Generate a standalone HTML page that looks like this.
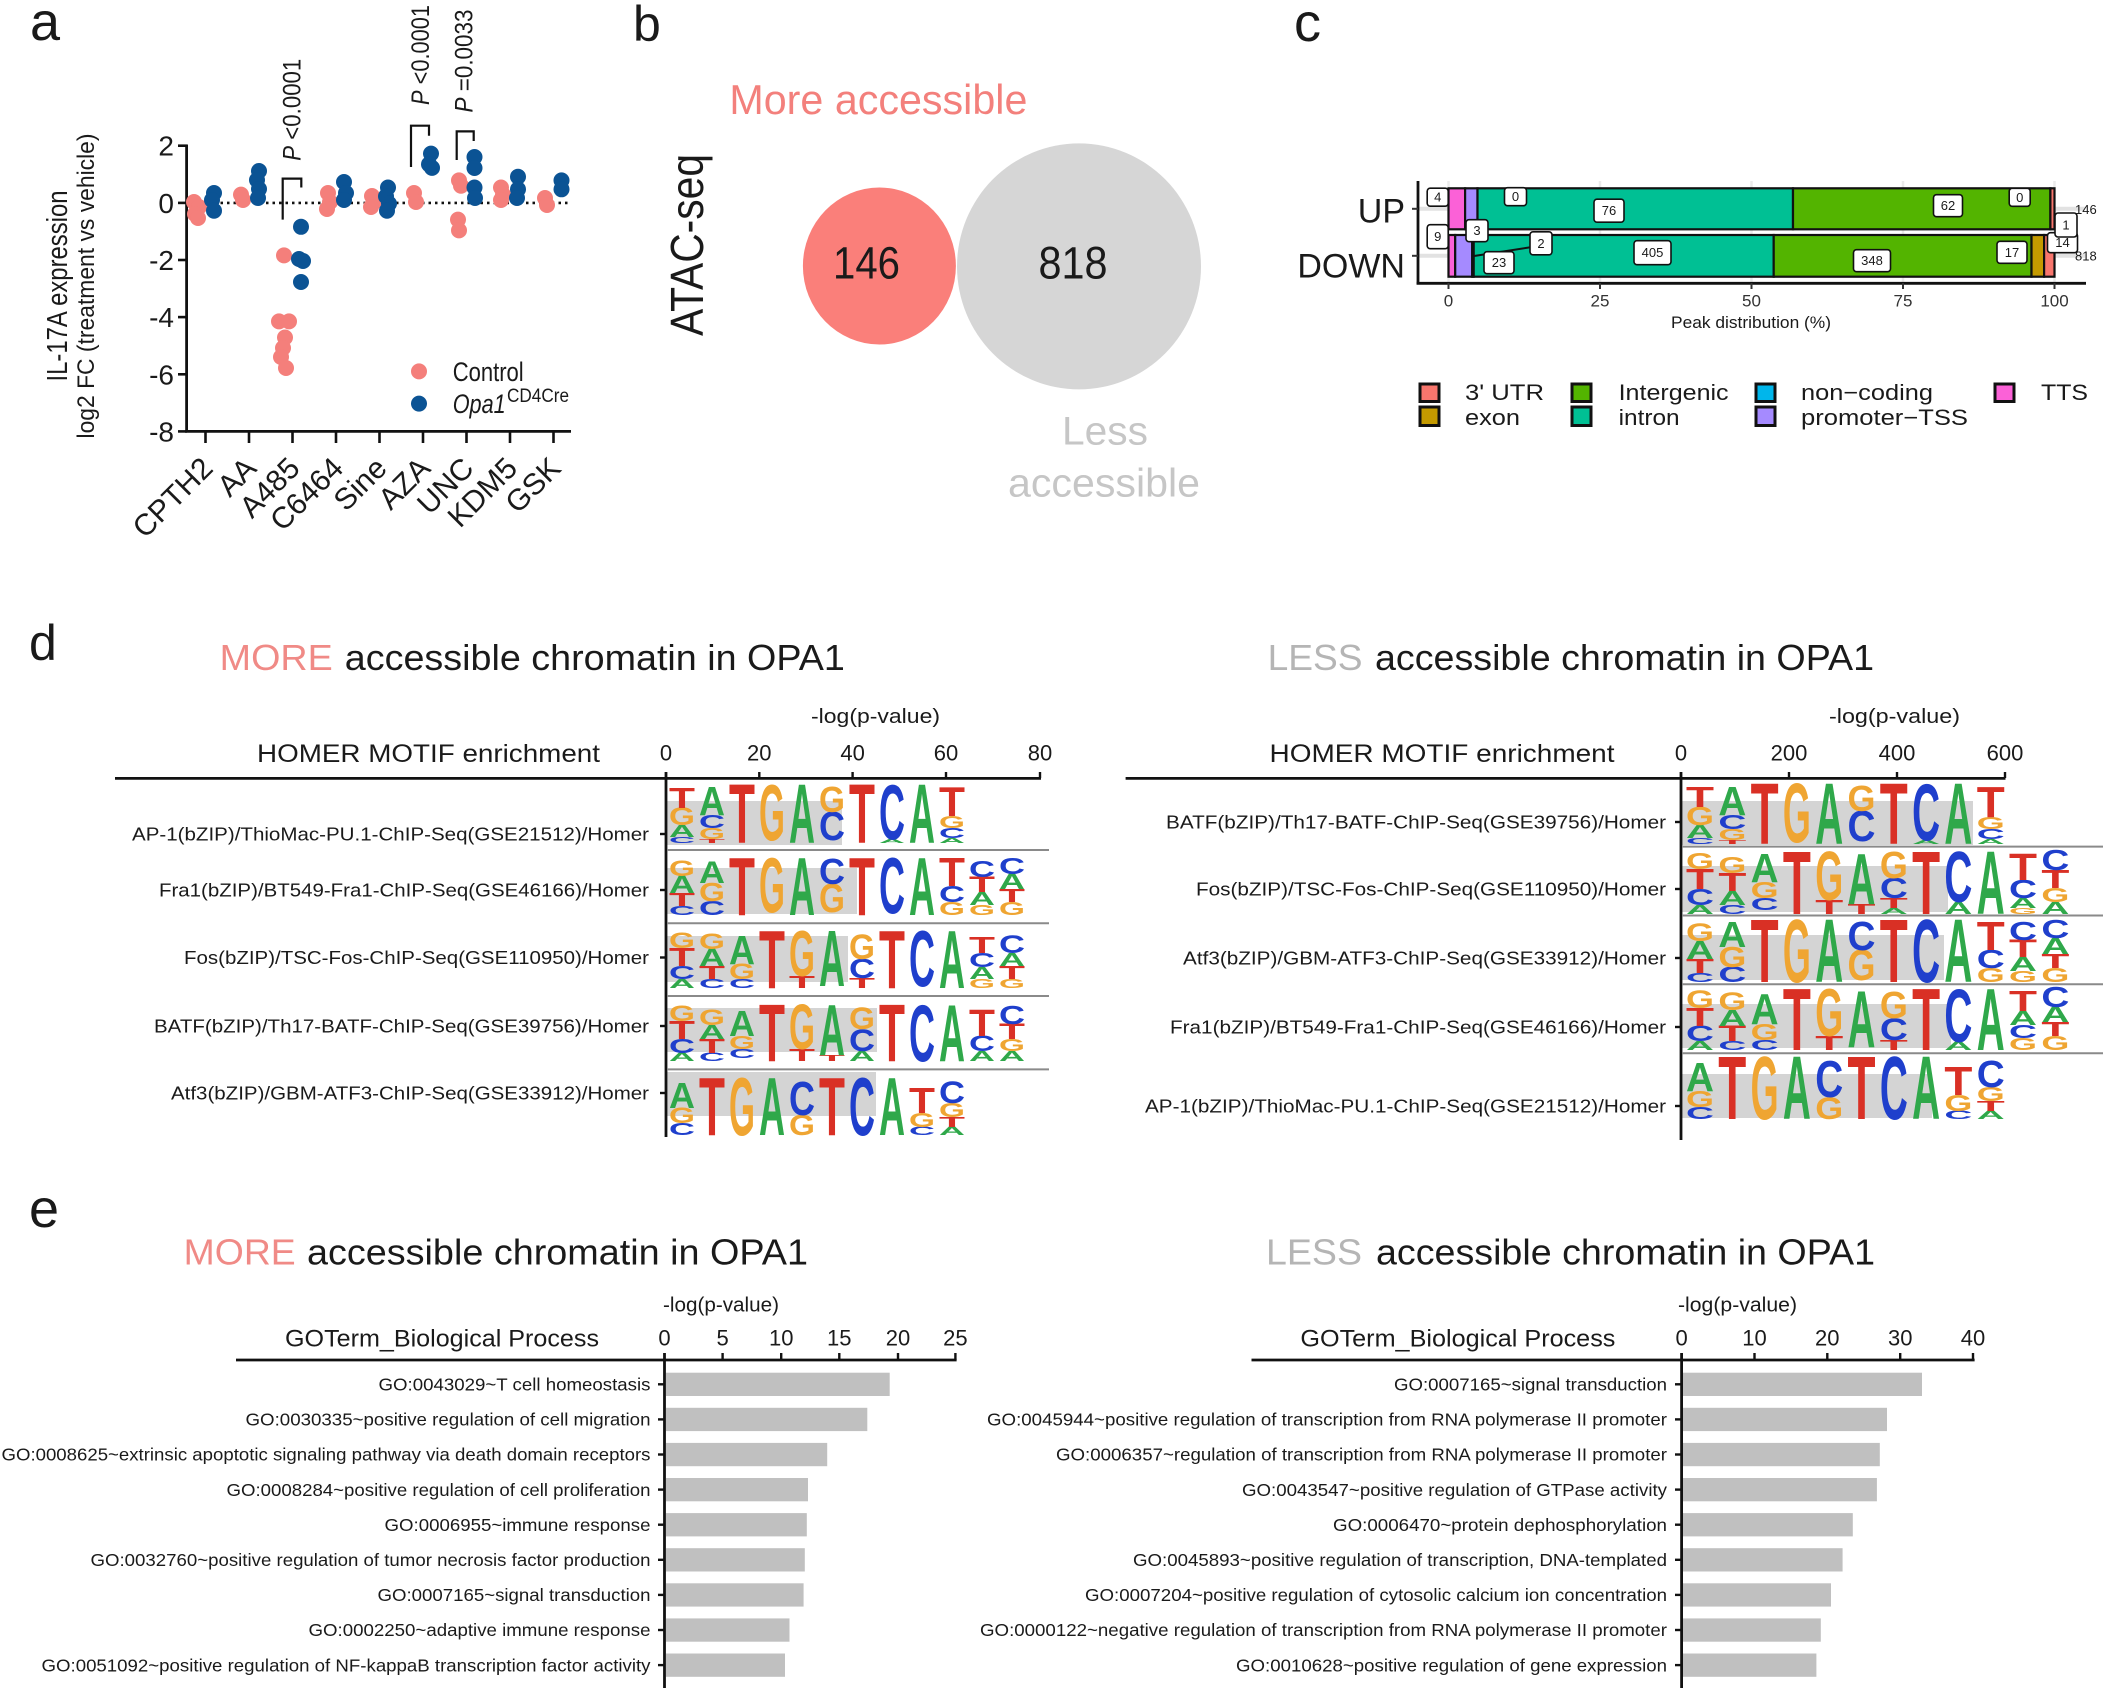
<!DOCTYPE html>
<html><head><meta charset="utf-8">
<style>
body{margin:0;background:#fff}
svg{display:block}
text{font-family:"Liberation Sans",Arial,sans-serif;fill:#1a1a1a}
.lg text{font-weight:bold;font-size:14.5px;text-anchor:middle}
.lg .A{fill:#2FA84A}.lg .C{fill:#1F3FCC}.lg .G{fill:#EFA532}.lg .T{fill:#D93025}
.ax{stroke:#111;stroke-width:2.8;fill:none}
.sep{stroke:#8a8a8a;stroke-width:2}
.lab{font-size:18px;text-anchor:end}
.go{font-size:17.5px;text-anchor:end}
.tk{font-size:22px;text-anchor:middle}
.bx rect{fill:#fff;stroke:#111;stroke-width:1.6}
.bx text{font-size:13px;text-anchor:middle}
</style></head><body>
<svg width="2103" height="1690" viewBox="0 0 2103 1690" xmlns="http://www.w3.org/2000/svg">
<rect width="2103" height="1690" fill="#fff"/>

<!-- ============ PANEL LETTERS ============ -->
<text x="30" y="40" font-size="54">a</text>
<text x="633" y="41" font-size="50">b</text>
<text x="1294" y="41" font-size="54">c</text>
<text x="29" y="660" font-size="50">d</text>
<text x="29" y="1227" font-size="54">e</text>

<!-- ============ PANEL A ============ -->
<g>
<line x1="186.6" y1="144.5" x2="186.6" y2="432.5" class="ax" stroke-width="3"/>
<line x1="185" y1="431.4" x2="571" y2="431.4" class="ax" stroke-width="3"/>
<g stroke="#111" stroke-width="2.6">
<line x1="178" y1="145.7" x2="187" y2="145.7"/><line x1="178" y1="202.9" x2="187" y2="202.9"/>
<line x1="178" y1="260" x2="187" y2="260"/><line x1="178" y1="317.1" x2="187" y2="317.1"/>
<line x1="178" y1="374.3" x2="187" y2="374.3"/><line x1="178" y1="431.4" x2="187" y2="431.4"/>
<line x1="205.5" y1="431" x2="205.5" y2="443"/><line x1="249" y1="431" x2="249" y2="443"/>
<line x1="292.5" y1="431" x2="292.5" y2="443"/><line x1="336" y1="431" x2="336" y2="443"/>
<line x1="379.5" y1="431" x2="379.5" y2="443"/><line x1="423" y1="431" x2="423" y2="443"/>
<line x1="466.5" y1="431" x2="466.5" y2="443"/><line x1="510" y1="431" x2="510" y2="443"/>
<line x1="553.5" y1="431" x2="553.5" y2="443"/>
</g>
<g font-size="28" text-anchor="end">
<text x="174" y="155.7">2</text><text x="174" y="212.9">0</text><text x="174" y="270">-2</text>
<text x="174" y="327.1">-4</text><text x="174" y="384.3">-6</text><text x="174" y="441.4">-8</text>
</g>
<line x1="188" y1="202.9" x2="571" y2="202.9" stroke="#111" stroke-width="2.6" stroke-dasharray="2.5 4"/>
<text transform="translate(67 286) rotate(-90)" font-size="29" text-anchor="middle" textLength="191" lengthAdjust="spacingAndGlyphs">IL-17A expression</text>
<text transform="translate(94 286) rotate(-90)" font-size="24" text-anchor="middle" textLength="305" lengthAdjust="spacingAndGlyphs">log2 FC (treatment vs vehicle)</text>
<g font-size="30" text-anchor="end">
<text transform="translate(214.5 470) rotate(-45)">CPTH2</text>
<text transform="translate(258 470) rotate(-45)">AA</text>
<text transform="translate(301.5 470) rotate(-45)">A485</text>
<text transform="translate(345 470) rotate(-45)">C6464</text>
<text transform="translate(388.5 470) rotate(-45)">Sine</text>
<text transform="translate(432 470) rotate(-45)">AZA</text>
<text transform="translate(475.5 470) rotate(-45)">UNC</text>
<text transform="translate(519 470) rotate(-45)">KDM5</text>
<text transform="translate(562.5 470) rotate(-45)">GSK</text>
</g>
<!-- brackets -->
<g stroke="#111" stroke-width="2.2" fill="none">
<path d="M282.7 219.6V178.6H301.3V187.5"/>
<path d="M411 167V125.7H429V135.7"/>
<path d="M456.7 160V131.4H473.7V141"/>
</g>
<g font-size="25">
<text transform="translate(300.5 160.7) rotate(-90)" textLength="102" lengthAdjust="spacingAndGlyphs"><tspan font-style="italic">P</tspan> &lt;0.0001</text>
<text transform="translate(429 105) rotate(-90)" textLength="100" lengthAdjust="spacingAndGlyphs"><tspan font-style="italic">P</tspan> &lt;0.0001</text>
<text transform="translate(472.5 112.5) rotate(-90)" textLength="103" lengthAdjust="spacingAndGlyphs"><tspan font-style="italic">P</tspan> =0.0033</text>
</g>
<!-- dots -->
<g fill="#F47F7B">
<circle cx="194" cy="202" r="8"/><circle cx="199" cy="207" r="8"/><circle cx="195" cy="214" r="8"/><circle cx="198" cy="218" r="8"/>
<circle cx="241" cy="194.6" r="8"/><circle cx="243" cy="200" r="8"/>
<circle cx="284" cy="255.4" r="8"/><circle cx="279" cy="321.4" r="8"/><circle cx="289" cy="321.4" r="8"/><circle cx="285" cy="337.5" r="8"/><circle cx="283" cy="348" r="8"/><circle cx="281" cy="357" r="8"/><circle cx="286" cy="368" r="8"/>
<circle cx="328" cy="193" r="8"/><circle cx="330" cy="202" r="8"/><circle cx="327" cy="209" r="8"/>
<circle cx="372" cy="196" r="8"/><circle cx="374" cy="202" r="8"/><circle cx="371" cy="207" r="8"/>
<circle cx="414" cy="193" r="8"/><circle cx="416" cy="202" r="8"/>
<circle cx="459" cy="180.4" r="8"/><circle cx="461" cy="185.7" r="8"/><circle cx="458" cy="219.6" r="8"/><circle cx="459" cy="230.4" r="8"/>
<circle cx="501" cy="187.5" r="8"/><circle cx="503" cy="194.6" r="8"/><circle cx="501" cy="200" r="8"/>
<circle cx="545" cy="198" r="8"/><circle cx="547" cy="205" r="8"/>
</g>
<g fill="#0B5394">
<circle cx="214" cy="193" r="8"/><circle cx="212" cy="200" r="8"/><circle cx="214" cy="210.7" r="8"/>
<circle cx="259" cy="171" r="8"/><circle cx="257" cy="180" r="8"/><circle cx="259" cy="189" r="8"/><circle cx="258" cy="198" r="8"/>
<circle cx="301" cy="226.8" r="8"/><circle cx="299" cy="259" r="8"/><circle cx="303" cy="261" r="8"/><circle cx="301" cy="282" r="8"/>
<circle cx="344" cy="182" r="8"/><circle cx="346" cy="193" r="8"/><circle cx="344" cy="200" r="8"/>
<circle cx="388" cy="187.5" r="8"/><circle cx="386" cy="196.4" r="8"/><circle cx="389" cy="203.6" r="8"/><circle cx="387" cy="210.7" r="8"/>
<circle cx="431" cy="153.6" r="8"/><circle cx="429" cy="164.3" r="8"/><circle cx="432" cy="167.9" r="8"/>
<circle cx="474.5" cy="157" r="8"/><circle cx="474.5" cy="168" r="8"/><circle cx="474.5" cy="187.5" r="8"/><circle cx="475" cy="198" r="8"/>
<circle cx="518" cy="176.8" r="8"/><circle cx="518" cy="189.3" r="8"/><circle cx="517" cy="198" r="8"/>
<circle cx="561.5" cy="180.4" r="8"/><circle cx="561.5" cy="189.3" r="8"/>
</g>
<circle cx="419" cy="371.4" r="8" fill="#F47F7B"/>
<circle cx="419" cy="403.6" r="8" fill="#0B5394"/>
<text x="452.7" y="381" font-size="27" textLength="71" lengthAdjust="spacingAndGlyphs">Control</text>
<text x="452.7" y="413" font-size="27" font-style="italic" textLength="53" lengthAdjust="spacingAndGlyphs">Opa1</text>
<text x="507" y="402" font-size="19" textLength="62" lengthAdjust="spacingAndGlyphs">CD4Cre</text>
</g>

<!-- ============ PANEL B ============ -->
<text x="729.4" y="114" font-size="42" fill="#F3807C" style="fill:#F3807C" textLength="298" lengthAdjust="spacingAndGlyphs">More accessible</text>
<text transform="translate(703 245) rotate(-90)" font-size="46" text-anchor="middle" textLength="182" lengthAdjust="spacingAndGlyphs">ATAC-seq</text>
<ellipse cx="1079" cy="266.4" rx="122" ry="123" fill="#D6D6D6"/>
<ellipse cx="879.4" cy="266" rx="76.5" ry="78.5" fill="#FA7F7A"/>
<text x="866.5" y="278.6" font-size="45" text-anchor="middle" textLength="67" lengthAdjust="spacingAndGlyphs">146</text>
<text x="1073" y="278.3" font-size="45" text-anchor="middle" textLength="69" lengthAdjust="spacingAndGlyphs">818</text>
<text x="1105" y="444.6" font-size="40" text-anchor="middle" style="fill:#C6C6C6" textLength="86" lengthAdjust="spacingAndGlyphs">Less</text>
<text x="1104" y="496.4" font-size="40" text-anchor="middle" style="fill:#C6C6C6" textLength="192" lengthAdjust="spacingAndGlyphs">accessible</text>

<!-- ============ PANEL C ============ -->
<g>
<g stroke="#EBEBEB" stroke-width="2.5">
<line x1="1448.5" y1="181" x2="1448.5" y2="283"/><line x1="1600" y1="181" x2="1600" y2="283"/>
<line x1="1751.5" y1="181" x2="1751.5" y2="283"/><line x1="1903" y1="181" x2="1903" y2="283"/>
<line x1="2054.5" y1="181" x2="2054.5" y2="283"/>
</g>
<g stroke="#E2E2E2" stroke-width="4">
<line x1="1418" y1="208.8" x2="2085" y2="208.8"/><line x1="1418" y1="255.8" x2="2085" y2="255.8"/>
</g>
<g stroke="#111" stroke-width="2.2">
<rect x="1448.5" y="188.3" width="16.6" height="41" fill="#FB61D7"/>
<rect x="1465.1" y="188.3" width="12.4" height="41" fill="#A58AFF"/>
<rect x="1477.5" y="188.3" width="315.5" height="41" fill="#00C094"/>
<rect x="1793" y="188.3" width="257.4" height="41" fill="#53B400"/>
<rect x="2050.4" y="188.3" width="4.1" height="41" fill="#F8766D"/>
<rect x="1448.5" y="235" width="6.7" height="41.7" fill="#FB61D7"/>
<rect x="1455.2" y="235" width="17" height="41.7" fill="#A58AFF"/>
<rect x="1472.2" y="235" width="1.5" height="41.7" fill="#00B6EB"/>
<rect x="1473.7" y="235" width="300" height="41.7" fill="#00C094"/>
<rect x="1773.7" y="235" width="257.8" height="41.7" fill="#53B400"/>
<rect x="2031.5" y="235" width="12.6" height="41.7" fill="#C49A00"/>
<rect x="2044.1" y="235" width="10.4" height="41.7" fill="#F8766D"/>
</g>
<line x1="1418" y1="181" x2="1418" y2="284.5" stroke="#111" stroke-width="2.8"/>
<line x1="1416.6" y1="283.3" x2="2086" y2="283.3" stroke="#111" stroke-width="2.8"/>
<g stroke="#333" stroke-width="2">
<line x1="1412" y1="208.8" x2="1418" y2="208.8"/><line x1="1412" y1="255.8" x2="1418" y2="255.8"/>
<line x1="1448.5" y1="283" x2="1448.5" y2="289"/><line x1="1600" y1="283" x2="1600" y2="289"/>
<line x1="1751.5" y1="283" x2="1751.5" y2="289"/><line x1="1903" y1="283" x2="1903" y2="289"/>
<line x1="2054.5" y1="283" x2="2054.5" y2="289"/>
</g>
<line x1="1474" y1="256" x2="1532" y2="247" stroke="#111" stroke-width="2"/>
<g class="bx">
<rect x="1427.2" y="188.2" width="21" height="18" rx="3"/><text x="1437.7" y="201.7">4</text>
<rect x="1504.5" y="187.7" width="22" height="18" rx="3"/><text x="1515.5" y="201.2">0</text>
<rect x="1594" y="199.2" width="30" height="23" rx="3"/><text x="1609" y="215.2">76</text>
<rect x="1933.5" y="194.7" width="29" height="22" rx="3"/><text x="1948" y="210.2">62</text>
<rect x="2009.2" y="188.3" width="21" height="18" rx="3"/><text x="2019.7" y="201.8">0</text>
<rect x="1466" y="219.7" width="22" height="22" rx="3"/><text x="1477" y="235.2">3</text>
<rect x="1427.2" y="224.7" width="21" height="24" rx="3"/><text x="1437.7" y="241.2">9</text>
<rect x="2047.5" y="232.7" width="30" height="20" rx="3"/><text x="2062.5" y="247.2">14</text>
<rect x="2055" y="213" width="22" height="24" rx="3"/><text x="2066" y="229.5">1</text>
<rect x="1530" y="231.8" width="22" height="23" rx="3"/><text x="1541" y="247.8">2</text>
<rect x="1484" y="251.7" width="30" height="22" rx="3"/><text x="1499" y="267.2">23</text>
<rect x="1634" y="240.7" width="37" height="24" rx="3"/><text x="1652.5" y="257.2">405</text>
<rect x="1853.5" y="249.7" width="37" height="22" rx="3"/><text x="1872" y="265.2">348</text>
<rect x="1997" y="241.3" width="30" height="22" rx="3"/><text x="2012" y="256.8">17</text>
</g>
<text x="2075" y="214" font-size="13">146</text>
<text x="2075" y="260.5" font-size="13">818</text>
<text x="1405" y="222.7" font-size="34" text-anchor="end">UP</text>
<text x="1405" y="277.3" font-size="34" text-anchor="end">DOWN</text>
<g font-size="17" text-anchor="middle" style="fill:#333">
<text x="1448.5" y="306.7" style="fill:#333">0</text><text x="1600" y="306.7" style="fill:#333">25</text>
<text x="1751.5" y="306.7" style="fill:#333">50</text><text x="1903" y="306.7" style="fill:#333">75</text>
<text x="2054.5" y="306.7" style="fill:#333">100</text>
</g>
<text x="1751" y="328" font-size="17" text-anchor="middle" textLength="160" lengthAdjust="spacingAndGlyphs">Peak distribution (%)</text>
<g stroke="#111" stroke-width="3">
<rect x="1420" y="384" width="19" height="17.5" fill="#F8766D"/>
<rect x="1420" y="407" width="19" height="18.5" fill="#C49A00"/>
<rect x="1572" y="384" width="19" height="17.5" fill="#53B400"/>
<rect x="1572" y="407" width="19" height="18.5" fill="#00C094"/>
<rect x="1756" y="384" width="19" height="17.5" fill="#00B6EB"/>
<rect x="1756" y="407" width="19" height="18.5" fill="#A58AFF"/>
<rect x="1995" y="384" width="19" height="17.5" fill="#FB61D7"/>
</g>
<g font-size="22">
<text x="1465" y="400" textLength="79" lengthAdjust="spacingAndGlyphs">3' UTR</text>
<text x="1465" y="425" textLength="55" lengthAdjust="spacingAndGlyphs">exon</text>
<text x="1618.6" y="400" textLength="110" lengthAdjust="spacingAndGlyphs">Intergenic</text>
<text x="1618.6" y="425" textLength="61" lengthAdjust="spacingAndGlyphs">intron</text>
<text x="1801" y="400" textLength="132" lengthAdjust="spacingAndGlyphs">non−coding</text>
<text x="1801" y="425" textLength="167" lengthAdjust="spacingAndGlyphs">promoter−TSS</text>
<text x="2041" y="400" textLength="47" lengthAdjust="spacingAndGlyphs">TTS</text>
</g>
</g>

<!-- ============ PANEL D ============ -->
<text x="219.7" y="670" font-size="36" style="fill:#F08A86" textLength="113" lengthAdjust="spacingAndGlyphs">MORE</text>
<text x="344.8" y="670" font-size="36" textLength="500" lengthAdjust="spacingAndGlyphs">accessible chromatin in OPA1</text>
<text x="1267.6" y="670" font-size="36" style="fill:#B5B5B5" textLength="95" lengthAdjust="spacingAndGlyphs">LESS</text>
<text x="1375" y="670" font-size="36" textLength="499" lengthAdjust="spacingAndGlyphs">accessible chromatin in OPA1</text>

<text x="811" y="723" font-size="20" textLength="129" lengthAdjust="spacingAndGlyphs">-log(p-value)</text>
<text x="1829" y="723" font-size="20" textLength="131" lengthAdjust="spacingAndGlyphs">-log(p-value)</text>
<text x="257" y="762" font-size="25" textLength="343" lengthAdjust="spacingAndGlyphs">HOMER MOTIF enrichment</text>
<text x="1269.5" y="762" font-size="25" textLength="345" lengthAdjust="spacingAndGlyphs">HOMER MOTIF enrichment</text>
<g class="tk">
<text x="666" y="760.5">0</text><text x="759.3" y="760.5">20</text><text x="852.6" y="760.5">40</text><text x="946" y="760.5">60</text><text x="1040" y="760.5">80</text>
<text x="1681" y="760.5">0</text><text x="1789" y="760.5">200</text><text x="1897" y="760.5">400</text><text x="2005" y="760.5">600</text>
</g>

<!-- motif gray bars -->
<g fill="#D4D4D4">
<rect x="667" y="801" width="175" height="44"/>
<rect x="667" y="868" width="190" height="46"/>
<rect x="667" y="936" width="181" height="46"/>
<rect x="667" y="1008" width="210" height="44"/>
<rect x="667" y="1072" width="209" height="44"/>
<rect x="1682" y="801" width="291" height="44"/>
<rect x="1682" y="866" width="266" height="46"/>
<rect x="1682" y="935" width="262" height="45"/>
<rect x="1682" y="1004" width="269" height="44"/>
<rect x="1682" y="1074" width="250" height="44"/>
</g>

<!-- LEFT LOGOS -->
<g class="lg">
<!-- R1 -->
<text class="C" transform="translate(682 843) scale(2.48 .6)">C</text>
<text class="A" transform="translate(682 837) scale(2.48 1.2)">A</text>
<text class="G" transform="translate(682 825) scale(2.3 1.7)">G</text>
<text class="T" transform="translate(682 808) scale(2.93 2)">T</text>
<text class="T" transform="translate(712 843) scale(2.93 .4)">T</text>
<text class="G" transform="translate(712 839) scale(2.3 1.1)">G</text>
<text class="C" transform="translate(712 828) scale(2.48 1.3)">C</text>
<text class="A" transform="translate(712 815) scale(2.48 2.8)">A</text>
<text class="T" transform="translate(742 843) scale(2.93 5.8)">T</text>
<text class="G" transform="translate(772 840) scale(2.3 5.5)">G</text>
<text class="A" transform="translate(802 843) scale(2.48 5.8)">A</text>
<text class="C" transform="translate(832 840) scale(2.48 2.8)">C</text>
<text class="G" transform="translate(832 812) scale(2.3 2.5)">G</text>
<text class="T" transform="translate(862 843) scale(2.93 5.8)">T</text>
<text class="A" transform="translate(892 843) scale(2.48 .4)">A</text>
<text class="C" transform="translate(892 839) scale(2.48 5.4)">C</text>
<text class="A" transform="translate(922 843) scale(2.48 5.8)">A</text>
<text class="A" transform="translate(952 843) scale(2.48 .5)">A</text>
<text class="C" transform="translate(952 838) scale(2.48 1)">C</text>
<text class="G" transform="translate(952 828) scale(2.3 1.2)">G</text>
<text class="T" transform="translate(952 816) scale(2.93 2.9)">T</text>
<!-- R2 -->
<text class="C" transform="translate(682 915) scale(2.48 .9)">C</text>
<text class="T" transform="translate(682 906) scale(2.93 1.3)">T</text>
<text class="A" transform="translate(682 893) scale(2.48 1.7)">A</text>
<text class="G" transform="translate(682 876) scale(2.3 1.5)">G</text>
<text class="C" transform="translate(712 915) scale(2.48 1.4)">C</text>
<text class="G" transform="translate(712 901) scale(2.3 1.8)">G</text>
<text class="A" transform="translate(712 883) scale(2.48 2.2)">A</text>
<text class="T" transform="translate(742 915) scale(2.93 5.7)">T</text>
<text class="G" transform="translate(772 912) scale(2.3 5.4)">G</text>
<text class="A" transform="translate(802 915) scale(2.48 5.7)">A</text>
<text class="G" transform="translate(832 912) scale(2.3 2.8)">G</text>
<text class="C" transform="translate(832 884) scale(2.48 2.5)">C</text>
<text class="T" transform="translate(862 915) scale(2.93 5.7)">T</text>
<text class="C" transform="translate(892 913) scale(2.48 5.5)">C</text>
<text class="A" transform="translate(922 915) scale(2.48 5.7)">A</text>
<text class="G" transform="translate(952 915) scale(2.3 1.3)">G</text>
<text class="C" transform="translate(952 902) scale(2.48 1.6)">C</text>
<text class="T" transform="translate(952 886) scale(2.93 2.8)">T</text>
<text class="G" transform="translate(982 915) scale(2.3 1)">G</text>
<text class="A" transform="translate(982 905) scale(2.48 1.3)">A</text>
<text class="T" transform="translate(982 892) scale(2.93 1.5)">T</text>
<text class="C" transform="translate(982 877) scale(2.48 1.6)">C</text>
<text class="G" transform="translate(1012 915) scale(2.3 1.3)">G</text>
<text class="T" transform="translate(1012 902) scale(2.93 1.3)">T</text>
<text class="A" transform="translate(1012 889) scale(2.48 1.5)">A</text>
<text class="C" transform="translate(1012 874) scale(2.48 1.6)">C</text>
<!-- R3 -->
<text class="A" transform="translate(682 988) scale(2.48 .9)">A</text>
<text class="C" transform="translate(682 979) scale(2.48 1.3)">C</text>
<text class="T" transform="translate(682 966) scale(2.93 1.8)">T</text>
<text class="G" transform="translate(682 948) scale(2.3 1.5)">G</text>
<text class="C" transform="translate(712 988) scale(2.48 .9)">C</text>
<text class="T" transform="translate(712 979) scale(2.93 1.3)">T</text>
<text class="A" transform="translate(712 966) scale(2.48 1.7)">A</text>
<text class="G" transform="translate(712 949) scale(2.3 1.5)">G</text>
<text class="C" transform="translate(742 988) scale(2.48 .9)">C</text>
<text class="G" transform="translate(742 979) scale(2.3 1.5)">G</text>
<text class="A" transform="translate(742 964) scale(2.48 2.8)">A</text>
<text class="T" transform="translate(772 988) scale(2.93 5.7)">T</text>
<text class="T" transform="translate(802 988) scale(2.93 1.2)">T</text>
<text class="G" transform="translate(802 976) scale(2.3 4.5)">G</text>
<text class="A" transform="translate(832 986) scale(2.48 5.5)">A</text>
<text class="T" transform="translate(862 988) scale(2.93 1)">T</text>
<text class="C" transform="translate(862 978) scale(2.48 1.9)">C</text>
<text class="G" transform="translate(862 959) scale(2.3 2.4)">G</text>
<text class="T" transform="translate(892 988) scale(2.93 5.7)">T</text>
<text class="C" transform="translate(922 986) scale(2.48 5.5)">C</text>
<text class="A" transform="translate(952 988) scale(2.48 5.7)">A</text>
<text class="G" transform="translate(982 988) scale(2.3 .9)">G</text>
<text class="A" transform="translate(982 979) scale(2.48 1.2)">A</text>
<text class="C" transform="translate(982 967) scale(2.48 1.4)">C</text>
<text class="T" transform="translate(982 953) scale(2.93 1.6)">T</text>
<text class="G" transform="translate(1012 988) scale(2.3 .9)">G</text>
<text class="T" transform="translate(1012 979) scale(2.93 1.3)">T</text>
<text class="A" transform="translate(1012 966) scale(2.48 1.3)">A</text>
<text class="C" transform="translate(1012 953) scale(2.48 1.7)">C</text>
<!-- R4 -->
<text class="A" transform="translate(682 1061) scale(2.48 .8)">A</text>
<text class="C" transform="translate(682 1053) scale(2.48 1.4)">C</text>
<text class="T" transform="translate(682 1039) scale(2.93 1.8)">T</text>
<text class="G" transform="translate(682 1021) scale(2.3 1.5)">G</text>
<text class="C" transform="translate(712 1061) scale(2.48 .8)">C</text>
<text class="T" transform="translate(712 1053) scale(2.93 1.4)">T</text>
<text class="A" transform="translate(712 1039) scale(2.48 1.4)">A</text>
<text class="G" transform="translate(712 1025) scale(2.3 1.5)">G</text>
<text class="C" transform="translate(742 1058) scale(2.48 .9)">C</text>
<text class="G" transform="translate(742 1049) scale(2.3 1.3)">G</text>
<text class="A" transform="translate(742 1036) scale(2.48 2.5)">A</text>
<text class="T" transform="translate(772 1061) scale(2.93 5.6)">T</text>
<text class="T" transform="translate(802 1061) scale(2.93 1.2)">T</text>
<text class="G" transform="translate(802 1049) scale(2.3 4.4)">G</text>
<text class="T" transform="translate(832 1061) scale(2.93 .6)">T</text>
<text class="A" transform="translate(832 1055) scale(2.48 5)">A</text>
<text class="A" transform="translate(862 1061) scale(2.48 1)">A</text>
<text class="C" transform="translate(862 1051) scale(2.48 2.2)">C</text>
<text class="G" transform="translate(862 1029) scale(2.3 2.2)">G</text>
<text class="T" transform="translate(892 1061) scale(2.93 5.6)">T</text>
<text class="C" transform="translate(922 1061) scale(2.48 5.6)">C</text>
<text class="A" transform="translate(952 1061) scale(2.48 5.6)">A</text>
<text class="A" transform="translate(982 1061) scale(2.48 1)">A</text>
<text class="C" transform="translate(982 1051) scale(2.48 1.5)">C</text>
<text class="T" transform="translate(982 1036) scale(2.93 2.6)">T</text>
<text class="A" transform="translate(1012 1061) scale(2.48 1)">A</text>
<text class="G" transform="translate(1012 1051) scale(2.3 1.2)">G</text>
<text class="T" transform="translate(1012 1039) scale(2.93 1.5)">T</text>
<text class="C" transform="translate(1012 1024) scale(2.48 1.8)">C</text>
<!-- R5 -->
<text class="C" transform="translate(682 1135) scale(2.48 1.2)">C</text>
<text class="G" transform="translate(682 1123) scale(2.3 1.5)">G</text>
<text class="A" transform="translate(682 1108) scale(2.48 2.5)">A</text>
<text class="T" transform="translate(712 1135) scale(2.93 5.7)">T</text>
<text class="G" transform="translate(742 1135) scale(2.3 5.7)">G</text>
<text class="A" transform="translate(772 1135) scale(2.48 5.7)">A</text>
<text class="G" transform="translate(802 1135) scale(2.3 2)">G</text>
<text class="C" transform="translate(802 1115) scale(2.48 3.3)">C</text>
<text class="T" transform="translate(832 1135) scale(2.93 5.7)">T</text>
<text class="C" transform="translate(862 1135) scale(2.48 5.7)">C</text>
<text class="A" transform="translate(892 1135) scale(2.48 5.7)">A</text>
<text class="C" transform="translate(922 1135) scale(2.48 .8)">C</text>
<text class="G" transform="translate(922 1127) scale(2.3 1.4)">G</text>
<text class="T" transform="translate(922 1113) scale(2.93 2.5)">T</text>
<text class="A" transform="translate(952 1135) scale(2.48 .8)">A</text>
<text class="T" transform="translate(952 1127) scale(2.93 1)">T</text>
<text class="G" transform="translate(952 1117) scale(2.3 1.4)">G</text>
<text class="C" transform="translate(952 1103) scale(2.48 2.2)">C</text>
</g>

<!-- RIGHT LOGOS -->
<g class="lg">
<!-- RR1 -->
<text class="C" transform="translate(1700 844) scale(2.67 .6)">C</text>
<text class="A" transform="translate(1700 838) scale(2.67 1.3)">A</text>
<text class="G" transform="translate(1700 825) scale(2.48 1.8)">G</text>
<text class="T" transform="translate(1700 807) scale(3.16 2)">T</text>
<text class="T" transform="translate(1732.3 844) scale(3.16 .4)">T</text>
<text class="G" transform="translate(1732.3 840) scale(2.48 1.1)">G</text>
<text class="C" transform="translate(1732.3 829) scale(2.67 1.4)">C</text>
<text class="A" transform="translate(1732.3 815) scale(2.67 2.8)">A</text>
<text class="T" transform="translate(1764.6 844) scale(3.16 6)">T</text>
<text class="G" transform="translate(1796.9 842) scale(2.48 5.8)">G</text>
<text class="A" transform="translate(1829.2 844) scale(2.67 6)">A</text>
<text class="C" transform="translate(1861.5 841) scale(2.67 3)">C</text>
<text class="G" transform="translate(1861.5 811) scale(2.48 2.5)">G</text>
<text class="T" transform="translate(1893.8 844) scale(3.16 6)">T</text>
<text class="A" transform="translate(1926.1 844) scale(2.67 .4)">A</text>
<text class="C" transform="translate(1926.1 840) scale(2.67 5.6)">C</text>
<text class="A" transform="translate(1958.4 844) scale(2.67 6)">A</text>
<text class="A" transform="translate(1990.7 844) scale(2.67 .5)">A</text>
<text class="C" transform="translate(1990.7 839) scale(2.67 1)">C</text>
<text class="G" transform="translate(1990.7 829) scale(2.48 1.2)">G</text>
<text class="T" transform="translate(1990.7 817) scale(3.16 3)">T</text>
<!-- RR2 -->
<text class="A" transform="translate(1700 914) scale(2.67 .9)">A</text>
<text class="C" transform="translate(1700 905) scale(2.67 1.6)">C</text>
<text class="T" transform="translate(1700 889) scale(3.16 2)">T</text>
<text class="G" transform="translate(1700 869) scale(2.48 1.6)">G</text>
<text class="C" transform="translate(1732.3 914) scale(2.67 .9)">C</text>
<text class="A" transform="translate(1732.3 905) scale(2.67 1.4)">A</text>
<text class="T" transform="translate(1732.3 891) scale(3.16 1.8)">T</text>
<text class="G" transform="translate(1732.3 873) scale(2.48 1.6)">G</text>
<text class="C" transform="translate(1764.6 910) scale(2.67 1.2)">C</text>
<text class="G" transform="translate(1764.6 898) scale(2.48 1.6)">G</text>
<text class="A" transform="translate(1764.6 882) scale(2.67 2.8)">A</text>
<text class="T" transform="translate(1796.9 914) scale(3.16 6.2)">T</text>
<text class="T" transform="translate(1829.2 914) scale(3.16 1.4)">T</text>
<text class="G" transform="translate(1829.2 900) scale(2.48 4.8)">G</text>
<text class="T" transform="translate(1861.5 914) scale(3.16 1)">T</text>
<text class="A" transform="translate(1861.5 904) scale(2.67 5)">A</text>
<text class="A" transform="translate(1893.8 914) scale(2.67 .6)">A</text>
<text class="T" transform="translate(1893.8 908) scale(3.16 1)">T</text>
<text class="C" transform="translate(1893.8 898) scale(2.67 2)">C</text>
<text class="G" transform="translate(1893.8 878) scale(2.48 2.6)">G</text>
<text class="T" transform="translate(1926.1 914) scale(3.16 6.2)">T</text>
<text class="A" transform="translate(1958.4 914) scale(2.67 1.2)">A</text>
<text class="C" transform="translate(1958.4 902) scale(2.67 5)">C</text>
<text class="A" transform="translate(1990.7 914) scale(2.67 6.2)">A</text>
<text class="G" transform="translate(2023 914) scale(2.48 .6)">G</text>
<text class="A" transform="translate(2023 908) scale(2.67 1)">A</text>
<text class="C" transform="translate(2023 898) scale(2.67 1.8)">C</text>
<text class="T" transform="translate(2023 880) scale(3.16 2.6)">T</text>
<text class="A" transform="translate(2055.3 914) scale(2.67 1.2)">A</text>
<text class="G" transform="translate(2055.3 902) scale(2.48 1.4)">G</text>
<text class="T" transform="translate(2055.3 888) scale(3.16 1.8)">T</text>
<text class="C" transform="translate(2055.3 870) scale(2.67 2)">C</text>
<!-- RR3 -->
<text class="C" transform="translate(1700 982) scale(2.67 .9)">C</text>
<text class="T" transform="translate(1700 973) scale(3.16 1.4)">T</text>
<text class="A" transform="translate(1700 959) scale(2.67 1.8)">A</text>
<text class="G" transform="translate(1700 941) scale(2.48 1.7)">G</text>
<text class="C" transform="translate(1732.3 982) scale(2.67 1.5)">C</text>
<text class="G" transform="translate(1732.3 967) scale(2.48 2)">G</text>
<text class="A" transform="translate(1732.3 947) scale(2.67 2.5)">A</text>
<text class="T" transform="translate(1764.6 982) scale(3.16 6.2)">T</text>
<text class="G" transform="translate(1796.9 982) scale(2.48 6.2)">G</text>
<text class="A" transform="translate(1829.2 982) scale(2.67 6.2)">A</text>
<text class="G" transform="translate(1861.5 980) scale(2.48 3)">G</text>
<text class="C" transform="translate(1861.5 950) scale(2.67 2.8)">C</text>
<text class="T" transform="translate(1893.8 982) scale(3.16 6.2)">T</text>
<text class="C" transform="translate(1926.1 982) scale(2.67 6.2)">C</text>
<text class="A" transform="translate(1958.4 982) scale(2.67 6.2)">A</text>
<text class="G" transform="translate(1990.7 982) scale(2.48 1.4)">G</text>
<text class="C" transform="translate(1990.7 968) scale(2.67 1.8)">C</text>
<text class="T" transform="translate(1990.7 950) scale(3.16 2.8)">T</text>
<text class="G" transform="translate(2023 982) scale(2.48 1.1)">G</text>
<text class="A" transform="translate(2023 971) scale(2.67 1.4)">A</text>
<text class="T" transform="translate(2023 957) scale(3.16 1.7)">T</text>
<text class="C" transform="translate(2023 940) scale(2.67 1.8)">C</text>
<text class="G" transform="translate(2055.3 982) scale(2.48 1.4)">G</text>
<text class="T" transform="translate(2055.3 968) scale(3.16 1.4)">T</text>
<text class="A" transform="translate(2055.3 954) scale(2.67 1.6)">A</text>
<text class="C" transform="translate(2055.3 938) scale(2.67 1.8)">C</text>
<!-- RR4 -->
<text class="A" transform="translate(1700 1050) scale(2.67 .9)">A</text>
<text class="C" transform="translate(1700 1041) scale(2.67 1.5)">C</text>
<text class="T" transform="translate(1700 1026) scale(3.16 1.8)">T</text>
<text class="G" transform="translate(1700 1008) scale(2.48 1.7)">G</text>
<text class="C" transform="translate(1732.3 1050) scale(2.67 .9)">C</text>
<text class="T" transform="translate(1732.3 1041) scale(3.16 1.5)">T</text>
<text class="A" transform="translate(1732.3 1026) scale(2.67 1.6)">A</text>
<text class="G" transform="translate(1732.3 1010) scale(2.48 1.7)">G</text>
<text class="C" transform="translate(1764.6 1050) scale(2.67 1)">C</text>
<text class="G" transform="translate(1764.6 1040) scale(2.48 1.6)">G</text>
<text class="A" transform="translate(1764.6 1024) scale(2.67 3)">A</text>
<text class="T" transform="translate(1796.9 1050) scale(3.16 6.1)">T</text>
<text class="T" transform="translate(1829.2 1050) scale(3.16 1.4)">T</text>
<text class="G" transform="translate(1829.2 1036) scale(2.48 4.7)">G</text>
<text class="A" transform="translate(1861.5 1047) scale(2.67 5.6)">A</text>
<text class="T" transform="translate(1893.8 1050) scale(3.16 1)">T</text>
<text class="C" transform="translate(1893.8 1040) scale(2.67 2.2)">C</text>
<text class="G" transform="translate(1893.8 1018) scale(2.48 2.6)">G</text>
<text class="T" transform="translate(1926.1 1050) scale(3.16 6.1)">T</text>
<text class="A" transform="translate(1958.4 1050) scale(2.67 .8)">A</text>
<text class="C" transform="translate(1958.4 1042) scale(2.67 5.2)">C</text>
<text class="A" transform="translate(1990.7 1050) scale(2.67 6.1)">A</text>
<text class="G" transform="translate(2023 1050) scale(2.48 1.2)">G</text>
<text class="C" transform="translate(2023 1038) scale(2.67 1.3)">C</text>
<text class="A" transform="translate(2023 1025) scale(2.67 1.4)">A</text>
<text class="T" transform="translate(2023 1011) scale(3.16 2)">T</text>
<text class="G" transform="translate(2055.3 1050) scale(2.48 1.4)">G</text>
<text class="T" transform="translate(2055.3 1036) scale(3.16 1.4)">T</text>
<text class="A" transform="translate(2055.3 1022) scale(2.67 1.5)">A</text>
<text class="C" transform="translate(2055.3 1007) scale(2.67 2)">C</text>
<!-- RR5 -->
<text class="C" transform="translate(1700 1119) scale(2.67 1.2)">C</text>
<text class="G" transform="translate(1700 1107) scale(2.48 1.6)">G</text>
<text class="A" transform="translate(1700 1091) scale(2.67 2.8)">A</text>
<text class="T" transform="translate(1732.3 1119) scale(3.16 6.2)">T</text>
<text class="G" transform="translate(1764.6 1119) scale(2.48 6.2)">G</text>
<text class="A" transform="translate(1796.9 1119) scale(2.67 6.2)">A</text>
<text class="G" transform="translate(1829.2 1119) scale(2.48 2.2)">G</text>
<text class="C" transform="translate(1829.2 1097) scale(2.67 3.6)">C</text>
<text class="T" transform="translate(1861.5 1119) scale(3.16 6.2)">T</text>
<text class="C" transform="translate(1893.8 1119) scale(2.67 6.2)">C</text>
<text class="A" transform="translate(1926.1 1119) scale(2.67 6.2)">A</text>
<text class="C" transform="translate(1958.4 1119) scale(2.67 .8)">C</text>
<text class="G" transform="translate(1958.4 1111) scale(2.48 1.6)">G</text>
<text class="T" transform="translate(1958.4 1095) scale(3.16 2.8)">T</text>
<text class="A" transform="translate(1990.7 1119) scale(2.67 .8)">A</text>
<text class="T" transform="translate(1990.7 1111) scale(3.16 1)">T</text>
<text class="G" transform="translate(1990.7 1101) scale(2.48 1.4)">G</text>
<text class="C" transform="translate(1990.7 1087) scale(2.67 2.6)">C</text>
</g>

<!-- d axes -->
<g class="ax">
<line x1="115" y1="778.4" x2="1041" y2="778.4"/>
<line x1="666" y1="772" x2="666" y2="1137"/>
<line x1="1125.6" y1="778.4" x2="2005.5" y2="778.4"/>
<line x1="1681" y1="772" x2="1681" y2="1140"/>
</g>
<g stroke="#111" stroke-width="2.4">
<line x1="759.3" y1="772" x2="759.3" y2="778"/><line x1="852.6" y1="772" x2="852.6" y2="778"/>
<line x1="946" y1="772" x2="946" y2="778"/><line x1="1040" y1="772" x2="1040" y2="778"/>
<line x1="1789" y1="772" x2="1789" y2="778"/><line x1="1897" y1="772" x2="1897" y2="778"/>
<line x1="2005" y1="772" x2="2005" y2="778"/>
<line x1="660" y1="834" x2="666" y2="834"/><line x1="660" y1="890" x2="666" y2="890"/>
<line x1="660" y1="957.5" x2="666" y2="957.5"/><line x1="660" y1="1026" x2="666" y2="1026"/>
<line x1="660" y1="1093" x2="666" y2="1093"/>
<line x1="1675" y1="822" x2="1681" y2="822"/><line x1="1675" y1="889" x2="1681" y2="889"/>
<line x1="1675" y1="958" x2="1681" y2="958"/><line x1="1675" y1="1027" x2="1681" y2="1027"/>
<line x1="1675" y1="1106" x2="1681" y2="1106"/>
</g>
<g class="sep">
<line x1="667" y1="850" x2="1049" y2="850"/><line x1="667" y1="923.3" x2="1049" y2="923.3"/>
<line x1="667" y1="996" x2="1049" y2="996"/><line x1="667" y1="1069.4" x2="1049" y2="1069.4"/>
<line x1="1682" y1="846.6" x2="2103" y2="846.6"/><line x1="1682" y1="915.5" x2="2103" y2="915.5"/>
<line x1="1682" y1="984.3" x2="2103" y2="984.3"/><line x1="1682" y1="1053.2" x2="2103" y2="1053.2"/>
</g>
<g class="lab">
<text x="649" y="840.5" textLength="517" lengthAdjust="spacingAndGlyphs">AP-1(bZIP)/ThioMac-PU.1-ChIP-Seq(GSE21512)/Homer</text>
<text x="649" y="896.5" textLength="490" lengthAdjust="spacingAndGlyphs">Fra1(bZIP)/BT549-Fra1-ChIP-Seq(GSE46166)/Homer</text>
<text x="649" y="964" textLength="465" lengthAdjust="spacingAndGlyphs">Fos(bZIP)/TSC-Fos-ChIP-Seq(GSE110950)/Homer</text>
<text x="649" y="1032.5" textLength="495" lengthAdjust="spacingAndGlyphs">BATF(bZIP)/Th17-BATF-ChIP-Seq(GSE39756)/Homer</text>
<text x="649" y="1099.5" textLength="478" lengthAdjust="spacingAndGlyphs">Atf3(bZIP)/GBM-ATF3-ChIP-Seq(GSE33912)/Homer</text>
<text x="1666" y="828.5" textLength="500" lengthAdjust="spacingAndGlyphs">BATF(bZIP)/Th17-BATF-ChIP-Seq(GSE39756)/Homer</text>
<text x="1666" y="895.5" textLength="470" lengthAdjust="spacingAndGlyphs">Fos(bZIP)/TSC-Fos-ChIP-Seq(GSE110950)/Homer</text>
<text x="1666" y="964.5" textLength="483" lengthAdjust="spacingAndGlyphs">Atf3(bZIP)/GBM-ATF3-ChIP-Seq(GSE33912)/Homer</text>
<text x="1666" y="1033.5" textLength="496" lengthAdjust="spacingAndGlyphs">Fra1(bZIP)/BT549-Fra1-ChIP-Seq(GSE46166)/Homer</text>
<text x="1666" y="1112.5" textLength="521" lengthAdjust="spacingAndGlyphs">AP-1(bZIP)/ThioMac-PU.1-ChIP-Seq(GSE21512)/Homer</text>
</g>

<!-- ============ PANEL E ============ -->
<text x="183.7" y="1264.6" font-size="36" style="fill:#F08A86" textLength="112" lengthAdjust="spacingAndGlyphs">MORE</text>
<text x="307" y="1264.6" font-size="36" textLength="501" lengthAdjust="spacingAndGlyphs">accessible chromatin in OPA1</text>
<text x="1266" y="1264.6" font-size="36" style="fill:#B5B5B5" textLength="96" lengthAdjust="spacingAndGlyphs">LESS</text>
<text x="1376" y="1264.6" font-size="36" textLength="499" lengthAdjust="spacingAndGlyphs">accessible chromatin in OPA1</text>

<text x="663" y="1311.5" font-size="20" textLength="116" lengthAdjust="spacingAndGlyphs">-log(p-value)</text>
<text x="1678" y="1311.5" font-size="20" textLength="119" lengthAdjust="spacingAndGlyphs">-log(p-value)</text>
<text x="285" y="1346.5" font-size="24" textLength="314" lengthAdjust="spacingAndGlyphs">GOTerm_Biological Process</text>
<text x="1300.4" y="1346.5" font-size="24" textLength="315" lengthAdjust="spacingAndGlyphs">GOTerm_Biological Process</text>
<g class="tk">
<text x="664.5" y="1345.5">0</text><text x="722.6" y="1345.5">5</text><text x="781.2" y="1345.5">10</text>
<text x="839.3" y="1345.5">15</text><text x="898" y="1345.5">20</text><text x="955.4" y="1345.5">25</text>
<text x="1681.6" y="1345.5">0</text><text x="1754.5" y="1345.5">10</text><text x="1827.3" y="1345.5">20</text>
<text x="1900.2" y="1345.5">30</text><text x="1973" y="1345.5">40</text>
</g>
<g fill="#C0C0C0">
<rect x="666" y="1372.7" width="223.7" height="23.3"/>
<rect x="666" y="1407.8" width="201.3" height="23.3"/>
<rect x="666" y="1442.9" width="161.2" height="23.3"/>
<rect x="666" y="1478" width="142" height="23.3"/>
<rect x="666" y="1513.1" width="140.8" height="23.3"/>
<rect x="666" y="1548.2" width="138.8" height="23.3"/>
<rect x="666" y="1583.3" width="137.6" height="23.3"/>
<rect x="666" y="1618.4" width="123.5" height="23.3"/>
<rect x="666" y="1653.5" width="119" height="23.3"/>
<rect x="1683" y="1372.7" width="239" height="23.3"/>
<rect x="1683" y="1407.8" width="204" height="23.3"/>
<rect x="1683" y="1442.9" width="196.8" height="23.3"/>
<rect x="1683" y="1478" width="193.9" height="23.3"/>
<rect x="1683" y="1513.1" width="169.8" height="23.3"/>
<rect x="1683" y="1548.2" width="159.6" height="23.3"/>
<rect x="1683" y="1583.3" width="148" height="23.3"/>
<rect x="1683" y="1618.4" width="137.8" height="23.3"/>
<rect x="1683" y="1653.5" width="133.4" height="23.3"/>
</g>
<g class="ax">
<line x1="236" y1="1360" x2="956.6" y2="1360"/>
<line x1="664.5" y1="1353" x2="664.5" y2="1688"/>
<line x1="1251.5" y1="1360" x2="1974.6" y2="1360"/>
<line x1="1681.6" y1="1353" x2="1681.6" y2="1688"/>
</g>
<g stroke="#111" stroke-width="2.4">
<line x1="722.6" y1="1353" x2="722.6" y2="1360"/><line x1="781.2" y1="1353" x2="781.2" y2="1360"/>
<line x1="839.3" y1="1353" x2="839.3" y2="1360"/><line x1="898" y1="1353" x2="898" y2="1360"/>
<line x1="955.4" y1="1353" x2="955.4" y2="1360"/>
<line x1="1754.5" y1="1353" x2="1754.5" y2="1360"/><line x1="1827.3" y1="1353" x2="1827.3" y2="1360"/>
<line x1="1900.2" y1="1353" x2="1900.2" y2="1360"/><line x1="1973" y1="1353" x2="1973" y2="1360"/>
<line x1="658" y1="1384.3" x2="665" y2="1384.3"/><line x1="658" y1="1419.4" x2="665" y2="1419.4"/>
<line x1="658" y1="1454.5" x2="665" y2="1454.5"/><line x1="658" y1="1489.6" x2="665" y2="1489.6"/>
<line x1="658" y1="1524.7" x2="665" y2="1524.7"/><line x1="658" y1="1559.8" x2="665" y2="1559.8"/>
<line x1="658" y1="1594.9" x2="665" y2="1594.9"/><line x1="658" y1="1630" x2="665" y2="1630"/>
<line x1="658" y1="1665.1" x2="665" y2="1665.1"/>
<line x1="1675" y1="1384.3" x2="1682" y2="1384.3"/><line x1="1675" y1="1419.4" x2="1682" y2="1419.4"/>
<line x1="1675" y1="1454.5" x2="1682" y2="1454.5"/><line x1="1675" y1="1489.6" x2="1682" y2="1489.6"/>
<line x1="1675" y1="1524.7" x2="1682" y2="1524.7"/><line x1="1675" y1="1559.8" x2="1682" y2="1559.8"/>
<line x1="1675" y1="1594.9" x2="1682" y2="1594.9"/><line x1="1675" y1="1630" x2="1682" y2="1630"/>
<line x1="1675" y1="1665.1" x2="1682" y2="1665.1"/>
</g>
<g class="go">
<text x="650.5" y="1390.5" textLength="272" lengthAdjust="spacingAndGlyphs">GO:0043029~T cell homeostasis</text>
<text x="650.5" y="1425.6" textLength="405" lengthAdjust="spacingAndGlyphs">GO:0030335~positive regulation of cell migration</text>
<text x="650.5" y="1460.7" textLength="649" lengthAdjust="spacingAndGlyphs">GO:0008625~extrinsic apoptotic signaling pathway via death domain receptors</text>
<text x="650.5" y="1495.8" textLength="424" lengthAdjust="spacingAndGlyphs">GO:0008284~positive regulation of cell proliferation</text>
<text x="650.5" y="1530.9" textLength="266" lengthAdjust="spacingAndGlyphs">GO:0006955~immune response</text>
<text x="650.5" y="1566" textLength="560" lengthAdjust="spacingAndGlyphs">GO:0032760~positive regulation of tumor necrosis factor production</text>
<text x="650.5" y="1601.1" textLength="273" lengthAdjust="spacingAndGlyphs">GO:0007165~signal transduction</text>
<text x="650.5" y="1636.2" textLength="342" lengthAdjust="spacingAndGlyphs">GO:0002250~adaptive immune response</text>
<text x="650.5" y="1671.3" textLength="609" lengthAdjust="spacingAndGlyphs">GO:0051092~positive regulation of NF-kappaB transcription factor activity</text>
<text x="1667" y="1390.5" textLength="273" lengthAdjust="spacingAndGlyphs">GO:0007165~signal transduction</text>
<text x="1667" y="1425.6" textLength="680" lengthAdjust="spacingAndGlyphs">GO:0045944~positive regulation of transcription from RNA polymerase II promoter</text>
<text x="1667" y="1460.7" textLength="611" lengthAdjust="spacingAndGlyphs">GO:0006357~regulation of transcription from RNA polymerase II promoter</text>
<text x="1667" y="1495.8" textLength="425" lengthAdjust="spacingAndGlyphs">GO:0043547~positive regulation of GTPase activity</text>
<text x="1667" y="1530.9" textLength="334" lengthAdjust="spacingAndGlyphs">GO:0006470~protein dephosphorylation</text>
<text x="1667" y="1566" textLength="534" lengthAdjust="spacingAndGlyphs">GO:0045893~positive regulation of transcription, DNA-templated</text>
<text x="1667" y="1601.1" textLength="582" lengthAdjust="spacingAndGlyphs">GO:0007204~positive regulation of cytosolic calcium ion concentration</text>
<text x="1667" y="1636.2" textLength="687" lengthAdjust="spacingAndGlyphs">GO:0000122~negative regulation of transcription from RNA polymerase II promoter</text>
<text x="1667" y="1671.3" textLength="431" lengthAdjust="spacingAndGlyphs">GO:0010628~positive regulation of gene expression</text>
</g>
</svg>
</body></html>
